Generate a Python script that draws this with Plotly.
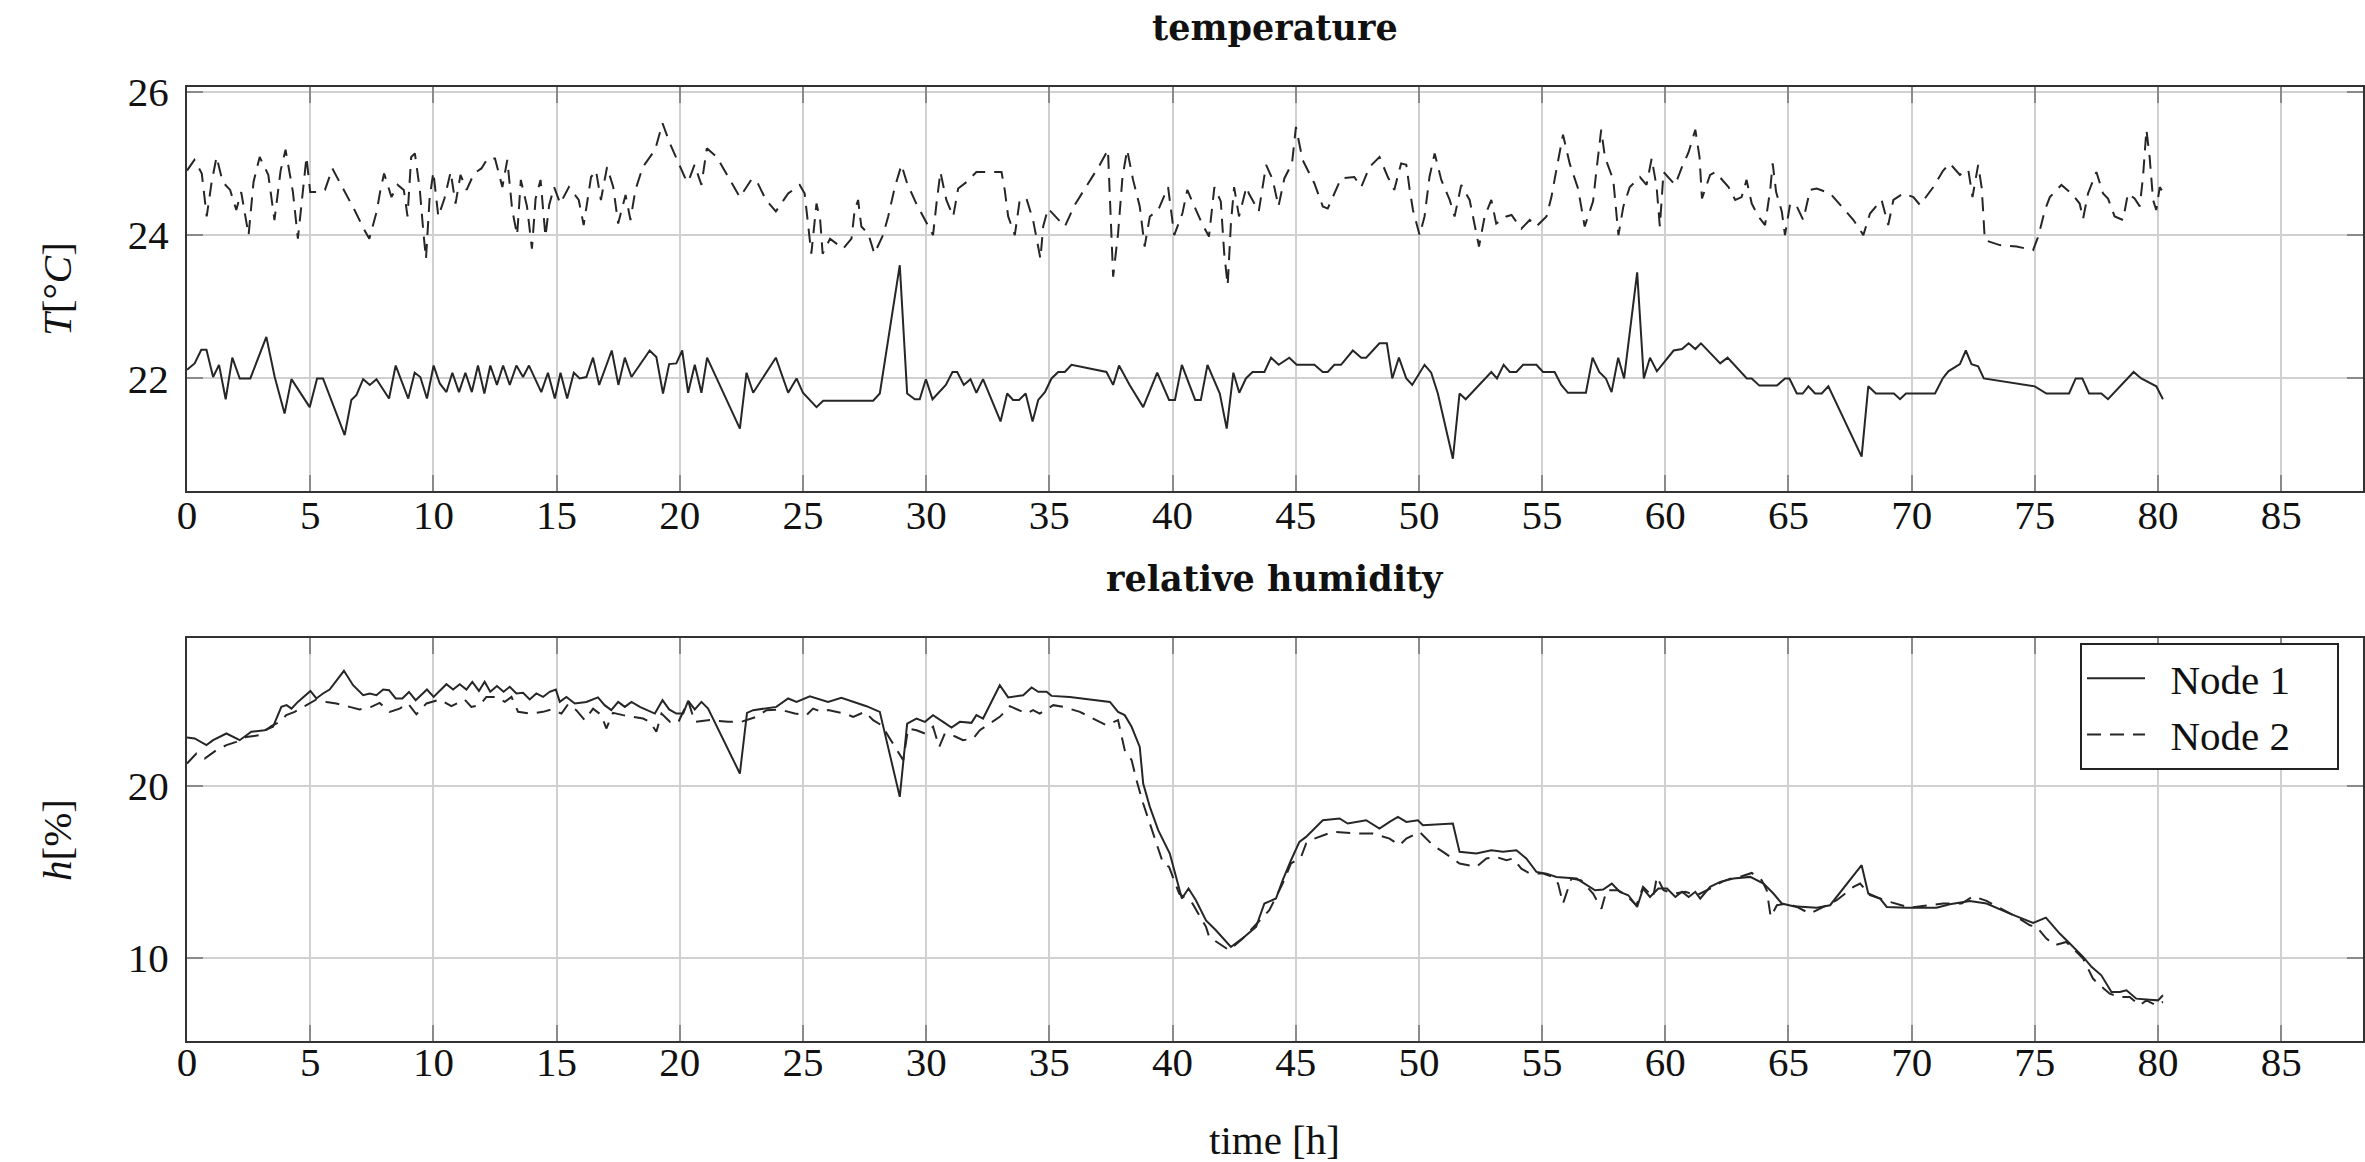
import plotly.graph_objects as go

# ---------------- data (hours, value) ----------------
temp_node1 = [
    [0, 22.12], [0.31, 22.21], [0.58, 22.40], [0.79, 22.40], [1.06, 22.02], [1.3, 22.19], [1.57, 21.71],
    [1.84, 22.29], [2.14, 22.0], [2.57, 22.0], [3.22, 22.58], [3.56, 22.02], [3.96, 21.51], [4.24, 21.99],
    [4.98, 21.60], [5.28, 22.0], [5.52, 22.0], [6.40, 21.21], [6.67, 21.70], [6.88, 21.77], [7.15, 21.99],
    [7.42, 21.91], [7.69, 21.99], [8.2, 21.72], [8.47, 22.18], [8.98, 21.72], [9.24, 22.08], [9.47, 22.02],
    [9.74, 21.72], [10.01, 22.18], [10.26, 21.93], [10.53, 21.81], [10.77, 22.08], [11.04, 21.81], [11.3, 22.08],
    [11.56, 21.81], [11.81, 22.18], [12.07, 21.79], [12.31, 22.18], [12.58, 21.91], [12.83, 22.18], [13.1, 21.91],
    [13.37, 22.18], [13.64, 22.02], [13.88, 22.18], [14.38, 21.81], [14.65, 22.08], [14.93, 21.72], [15.16, 22.08],
    [15.43, 21.72], [15.70, 22.08], [15.94, 22.0], [16.21, 22.02], [16.48, 22.29], [16.73, 21.91], [17.24, 22.39],
    [17.51, 21.91], [17.77, 22.29], [18.04, 22.02], [18.78, 22.39], [19.05, 22.30], [19.32, 21.79], [19.57, 22.20],
    [19.86, 22.21], [20.1, 22.39], [20.34, 21.8], [20.61, 22.19], [20.88, 21.8], [21.11, 22.29], [22.44, 21.30],
    [22.71, 22.08], [22.98, 21.80], [23.9, 22.29], [24.4, 21.80], [24.74, 22.0], [25.0, 21.80], [25.55, 21.60],
    [25.82, 21.69], [27.85, 21.69], [28.12, 21.79], [28.93, 23.58], [29.23, 21.79], [29.54, 21.71], [29.74, 21.71],
    [29.99, 21.99], [30.26, 21.71], [30.8, 21.91], [31.07, 22.09], [31.26, 22.09], [31.53, 21.91], [31.8, 21.99],
    [32.04, 21.80], [32.31, 21.99], [33.02, 21.40], [33.29, 21.79], [33.53, 21.70], [33.77, 21.70], [34.04, 21.79],
    [34.32, 21.40], [34.55, 21.70], [34.82, 21.81], [35.09, 22.0], [35.36, 22.09], [35.63, 22.09], [35.9, 22.19],
    [37.32, 22.09], [37.59, 21.91], [37.83, 22.18], [38.26, 21.91], [38.81, 21.60], [39.38, 22.08], [39.86, 21.70],
    [40.1, 21.70], [40.38, 22.19], [40.92, 21.70], [41.15, 21.70], [41.42, 22.19], [41.92, 21.79], [42.2, 21.30],
    [42.47, 22.08], [42.71, 21.80], [42.98, 22.0], [43.25, 22.09], [43.73, 22.09], [44.0, 22.29], [44.31, 22.19],
    [44.74, 22.29], [45.04, 22.19], [45.76, 22.19], [46.1, 22.09], [46.3, 22.09], [46.57, 22.19], [46.84, 22.19],
    [47.32, 22.39], [47.66, 22.29], [47.86, 22.29], [48.4, 22.49], [48.7, 22.49], [48.92, 22.0], [49.19, 22.29],
    [49.49, 22.0], [49.73, 21.91], [50.23, 22.19], [50.5, 22.08], [50.77, 21.79], [51.38, 20.88], [51.65, 21.79],
    [51.9, 21.71], [52.94, 22.09], [53.17, 22.0], [53.44, 22.19], [53.69, 22.09], [53.96, 22.09], [54.23, 22.19],
    [54.77, 22.19], [55.04, 22.09], [55.51, 22.09], [55.78, 21.91], [56.05, 21.8], [56.78, 21.8], [57.05, 22.29],
    [57.32, 22.09], [57.59, 22.0], [57.82, 21.81], [58.09, 22.29], [58.33, 22.0], [58.86, 23.48], [59.13, 22.0],
    [59.38, 22.29], [59.66, 22.10], [60.34, 22.39], [60.68, 22.41], [60.95, 22.49], [61.22, 22.41], [61.45, 22.49],
    [62.23, 22.21], [62.53, 22.29], [63.31, 22.0], [63.51, 22.0], [63.82, 21.90], [64.53, 21.90], [64.86, 22.0],
    [65.04, 22.0], [65.34, 21.79], [65.58, 21.79], [65.81, 21.89], [66.08, 21.79], [66.35, 21.79], [66.62, 21.89],
    [67.97, 20.91], [68.24, 21.89], [68.55, 21.79], [69.28, 21.79], [69.53, 21.71], [69.77, 21.79], [70.95, 21.79],
    [71.26, 22.0], [71.49, 22.10], [71.96, 22.20], [72.2, 22.39], [72.43, 22.20], [72.7, 22.17], [72.93, 22.0],
    [75.0, 21.89], [75.47, 21.79], [76.39, 21.79], [76.66, 22.0], [76.93, 22.0], [77.2, 21.79], [77.7, 21.79],
    [77.97, 21.71], [79.01, 22.09], [79.32, 22.0], [79.93, 21.89], [80.2, 21.71],
]

temp_node2 = [
    [0, 24.9], [0.3, 25.05], [0.6, 24.86], [0.8, 24.26], [1.0, 24.74], [1.2, 25.09], [1.45, 24.74], [1.75, 24.63],
    [2.0, 24.35], [2.2, 24.6], [2.5, 24.0], [2.7, 24.74], [2.95, 25.09], [3.3, 24.84], [3.55, 24.21], [3.8, 24.9],
    [4.0, 25.19], [4.3, 24.6], [4.5, 23.95], [4.7, 24.65], [4.85, 25.09], [5.0, 24.6], [5.3, 24.6], [5.6, 24.63],
    [5.9, 24.93], [6.3, 24.67], [6.8, 24.35], [7.2, 24.07], [7.4, 23.95], [7.7, 24.33], [7.85, 24.63], [8.0, 24.86],
    [8.3, 24.53], [8.55, 24.7], [8.8, 24.63], [8.95, 24.26], [9.1, 25.09], [9.25, 25.14], [9.45, 24.63], [9.6, 24.02],
    [9.7, 23.67], [9.85, 24.53], [10.0, 24.88], [10.2, 24.26], [10.45, 24.51], [10.7, 24.88], [10.9, 24.44],
    [11.1, 24.84], [11.35, 24.63], [11.65, 24.86], [11.95, 24.93], [12.2, 25.07], [12.5, 25.07], [12.8, 24.67],
    [13.0, 25.05], [13.2, 24.35], [13.4, 24.0], [13.55, 24.77], [13.8, 24.4], [14.0, 23.81], [14.15, 24.51],
    [14.35, 24.77], [14.55, 23.98], [14.7, 24.42], [14.9, 24.67], [15.15, 24.44], [15.5, 24.67], [15.9, 24.49],
    [16.1, 24.14], [16.4, 24.81], [16.6, 24.9], [16.8, 24.49], [17.05, 24.95], [17.3, 24.67], [17.5, 24.16],
    [17.8, 24.56], [18.0, 24.21], [18.2, 24.63], [18.5, 24.95], [19.0, 25.19], [19.3, 25.56], [19.6, 25.28],
    [19.9, 25.05], [20.2, 24.81], [20.34, 24.74], [20.6, 24.98], [20.88, 24.7], [21.1, 25.21], [21.5, 25.09],
    [21.9, 24.86], [22.44, 24.53], [22.9, 24.77], [23.1, 24.77], [23.5, 24.49], [23.9, 24.33], [24.4, 24.58],
    [24.87, 24.7], [25.07, 24.58], [25.2, 24.21], [25.34, 23.74], [25.55, 24.44], [25.7, 24.21], [25.8, 23.74],
    [26.1, 23.95], [26.63, 23.81], [26.97, 23.95], [27.1, 24.35], [27.24, 24.49], [27.37, 24.12], [27.65, 24.02],
    [27.9, 23.74], [28.25, 24.0], [28.46, 24.26], [28.73, 24.67], [29.0, 24.98], [29.23, 24.72], [29.6, 24.44],
    [29.88, 24.26], [30.28, 24.0], [30.42, 24.44], [30.58, 24.88], [30.82, 24.49], [31.1, 24.26], [31.3, 24.65],
    [31.64, 24.74], [32.04, 24.88], [32.58, 24.88], [33.06, 24.88], [33.19, 24.63], [33.33, 24.26], [33.6, 24.0],
    [33.8, 24.49], [34.07, 24.51], [34.34, 24.21], [34.64, 23.67], [34.75, 24.12], [34.95, 24.37], [35.63, 24.12],
    [36.03, 24.42], [36.5, 24.67], [37.05, 24.98], [37.38, 25.19], [37.48, 24.44], [37.59, 23.42], [37.79, 24.02],
    [37.97, 24.81], [38.16, 25.19], [38.4, 24.77], [38.67, 24.4], [38.87, 23.84], [39.08, 24.26], [39.42, 24.35],
    [39.82, 24.67], [40.07, 24.0], [40.4, 24.3], [40.6, 24.63], [40.8, 24.47], [41.2, 24.16], [41.48, 23.98],
    [41.7, 24.67], [41.96, 24.47], [42.1, 23.74], [42.24, 23.3], [42.37, 24.16], [42.5, 24.67], [42.7, 24.26],
    [43.0, 24.67], [43.1, 24.58], [43.5, 24.33], [43.66, 24.65], [43.8, 24.98], [44.07, 24.77], [44.3, 24.4],
    [44.54, 24.79], [44.85, 25.0], [45.01, 25.51], [45.28, 25.05], [45.76, 24.72], [46.1, 24.4], [46.3, 24.37],
    [46.84, 24.79], [47.38, 24.81], [47.66, 24.67], [48.0, 24.95], [48.4, 25.09], [48.74, 24.81], [49.0, 24.63],
    [49.28, 25.0], [49.49, 24.98], [49.62, 24.65], [49.76, 24.35], [50.03, 24.0], [50.23, 24.26], [50.43, 24.81],
    [50.64, 25.14], [50.91, 24.77], [51.25, 24.49], [51.45, 24.26], [51.72, 24.7], [52.06, 24.49], [52.26, 24.14],
    [52.44, 23.84], [52.67, 24.26], [52.94, 24.49], [53.14, 24.16], [53.55, 24.26], [53.76, 24.28], [54.16, 24.09],
    [54.5, 24.21], [54.77, 24.12], [55.18, 24.26], [55.38, 24.53], [55.58, 24.91], [55.85, 25.4], [56.12, 25.0],
    [56.46, 24.65], [56.73, 24.12], [57.07, 24.47], [57.2, 24.88], [57.4, 25.47], [57.55, 25.09], [57.89, 24.77],
    [58.1, 24.0], [58.3, 24.4], [58.56, 24.67], [58.97, 24.81], [59.24, 24.7], [59.45, 25.07], [59.65, 24.67],
    [59.78, 24.12], [59.93, 24.88], [60.4, 24.7], [60.68, 24.95], [60.95, 25.16], [61.22, 25.47], [61.39, 25.09],
    [61.49, 24.51], [61.82, 24.84], [62.03, 24.88], [62.57, 24.67], [62.84, 24.49], [63.1, 24.53], [63.3, 24.77],
    [63.51, 24.44], [63.78, 24.26], [64.05, 24.14], [64.26, 24.63], [64.36, 25.0], [64.5, 24.6], [64.73, 24.33],
    [64.86, 24.0], [65.07, 24.44], [65.34, 24.4], [65.6, 24.21], [65.88, 24.63], [66.15, 24.65], [66.7, 24.58],
    [67.16, 24.4], [67.64, 24.21], [68.04, 24.0], [68.31, 24.3], [68.78, 24.49], [69.05, 24.14], [69.26, 24.49],
    [69.66, 24.58], [70.07, 24.53], [70.34, 24.42], [70.88, 24.67], [71.28, 24.9], [71.55, 25.0], [71.96, 24.84],
    [72.3, 24.91], [72.47, 24.53], [72.7, 24.98], [72.84, 24.67], [72.9, 24.35], [72.97, 23.93], [73.58, 23.86],
    [74.26, 23.84], [74.93, 23.79], [75.14, 23.98], [75.41, 24.35], [75.61, 24.53], [76.08, 24.7], [76.49, 24.58],
    [76.82, 24.44], [76.96, 24.23], [77.16, 24.58], [77.5, 24.88], [77.77, 24.58], [77.97, 24.51], [78.24, 24.26],
    [78.58, 24.21], [78.78, 24.58], [79.05, 24.51], [79.26, 24.4], [79.39, 24.81], [79.53, 25.47], [79.66, 25.09],
    [79.8, 24.49], [79.93, 24.35], [80.07, 24.67], [80.27, 24.56],
]

hum_node1 = [
    [0, 22.82], [0.31, 22.76], [0.79, 22.37], [1.06, 22.66], [1.6, 23.05], [2.14, 22.66], [2.61, 23.15],
    [3.15, 23.24], [3.49, 23.44], [3.83, 24.6], [4.04, 24.7], [4.24, 24.5], [4.5, 24.89], [5.01, 25.53],
    [5.25, 25.09], [5.52, 25.38], [5.79, 25.61], [6.37, 26.7], [6.74, 25.86], [7.15, 25.28], [7.42, 25.38],
    [7.69, 25.28], [7.96, 25.61], [8.2, 25.57], [8.47, 25.09], [8.74, 25.09], [9.01, 25.47], [9.28, 24.99],
    [9.74, 25.61], [10.01, 25.18], [10.53, 25.92], [10.8, 25.61], [11.07, 25.92], [11.34, 25.61], [11.58, 26.06],
    [11.85, 25.53], [12.08, 26.06], [12.31, 25.48], [12.58, 25.81], [12.85, 25.48], [13.1, 25.77], [13.37, 25.38],
    [13.64, 25.42], [13.91, 25.03], [14.18, 25.38], [14.45, 25.18], [14.72, 25.48], [14.97, 25.61], [15.13, 24.89],
    [15.4, 25.18], [15.74, 24.8], [16.21, 24.89], [16.68, 25.15], [16.95, 24.7], [17.22, 24.41], [17.5, 24.89],
    [17.77, 24.6], [18.04, 24.89], [18.38, 24.6], [18.65, 24.41], [18.99, 24.21], [19.3, 24.99], [19.57, 24.45],
    [19.86, 24.21], [20.14, 24.21], [20.34, 24.95], [20.61, 24.45], [20.88, 24.89], [21.15, 24.5], [22.44, 20.72],
    [22.73, 24.25], [22.98, 24.41], [23.92, 24.6], [24.4, 25.09], [24.74, 24.89], [25.28, 25.22], [26.02, 24.89],
    [26.56, 25.13], [27.1, 24.89], [27.58, 24.64], [28.12, 24.31], [28.93, 19.36], [29.23, 23.63], [29.61, 23.92],
    [29.95, 23.73], [30.28, 24.12], [30.69, 23.73], [31.03, 23.4], [31.37, 23.73], [31.84, 23.67], [32.04, 24.12],
    [32.31, 23.92], [32.99, 25.86], [33.33, 25.15], [33.94, 25.28], [34.28, 25.73], [34.55, 25.48], [34.89, 25.48],
    [35.09, 25.24], [35.83, 25.18], [37.46, 24.89], [37.79, 24.31], [38.06, 24.12], [38.34, 23.44], [38.67, 22.27],
    [38.81, 20.14], [39.08, 18.78], [39.42, 17.42], [39.89, 16.06], [40.07, 15.09], [40.38, 13.44], [40.65, 14.02],
    [40.95, 13.34], [41.36, 12.17], [41.76, 11.59], [42.37, 10.62], [42.91, 11.2], [43.39, 11.79], [43.73, 13.15],
    [44.2, 13.44], [44.47, 14.5], [44.81, 15.67], [45.15, 16.74], [45.42, 17.03], [45.69, 17.42], [46.1, 18.0],
    [46.78, 18.1], [47.11, 17.81], [47.86, 18.0], [48.4, 17.51], [48.81, 17.9], [49.15, 18.19], [49.49, 17.9],
    [49.96, 18.0], [50.16, 17.71], [51.38, 17.81], [51.65, 16.16], [52.33, 16.06], [52.94, 16.25], [53.41, 16.16],
    [53.96, 16.25], [54.36, 15.77], [54.77, 14.99], [55.18, 14.89], [55.58, 14.7], [56.4, 14.6], [57.15, 13.92],
    [57.48, 13.96], [57.83, 14.31], [58.16, 13.83], [58.5, 13.63], [58.86, 12.95], [59.1, 14.02], [59.38, 13.53],
    [59.72, 14.02], [60.07, 14.02], [60.41, 13.53], [60.68, 13.83], [60.95, 13.53], [61.22, 13.83], [61.42, 13.44],
    [61.82, 14.12], [62.23, 14.41], [62.77, 14.6], [63.45, 14.7], [63.99, 14.31], [64.39, 13.73], [64.73, 13.15],
    [65.2, 12.99], [66.15, 12.91], [66.69, 13.05], [67.97, 15.38], [68.24, 13.73], [68.72, 13.44], [68.99, 12.95],
    [69.8, 12.91], [71.01, 12.91], [71.55, 13.11], [72.36, 13.3], [73.04, 13.15], [73.99, 12.56], [74.93, 12.02],
    [75.45, 12.33], [76.01, 11.4], [76.42, 10.82], [76.96, 10.04], [77.3, 9.46], [77.7, 8.97], [78.11, 8.0],
    [78.45, 8.0], [78.72, 8.1], [79.12, 7.61], [79.66, 7.55], [80.0, 7.51], [80.2, 7.81],
]

hum_node2 = [
    [0, 21.3], [0.38, 21.88], [0.72, 21.59], [1.19, 22.08], [1.6, 22.37], [2.0, 22.56], [2.41, 22.85],
    [2.95, 22.95], [3.42, 23.48], [3.76, 23.73], [4.03, 24.12], [4.37, 24.31], [4.85, 24.7], [5.25, 25.03],
    [5.66, 24.89], [6.06, 24.8], [6.6, 24.6], [7.0, 24.45], [7.48, 24.6], [7.82, 24.83], [8.23, 24.31],
    [8.63, 24.5], [8.97, 24.8], [9.31, 24.17], [9.72, 24.8], [10.26, 25.03], [10.73, 24.64], [11.27, 25.03],
    [11.54, 24.6], [11.88, 24.7], [12.15, 25.18], [12.56, 25.18], [12.9, 24.89], [13.17, 25.18], [13.44, 24.31],
    [13.91, 24.21], [14.45, 24.31], [14.79, 24.45], [15.2, 24.21], [15.47, 24.76], [15.8, 24.41], [16.14, 23.83],
    [16.48, 24.5], [16.82, 24.12], [17.02, 23.34], [17.29, 24.25], [17.7, 24.12], [18.1, 24.02], [18.51, 23.92],
    [18.78, 23.73], [19.05, 23.15], [19.26, 24.21], [19.6, 23.73], [19.93, 23.67], [20.34, 24.95], [20.61, 23.73],
    [21.22, 23.83], [21.96, 23.73], [22.5, 23.73], [23.11, 24.02], [23.52, 24.41], [24.06, 24.45], [24.67, 24.21],
    [25.14, 24.12], [25.41, 24.5], [25.75, 24.31], [26.02, 24.41], [26.7, 24.21], [27.04, 24.02], [27.51, 24.31],
    [27.85, 23.83], [28.19, 23.53], [28.53, 22.76], [28.8, 22.08], [29.07, 21.5], [29.27, 23.34], [29.61, 23.24],
    [29.95, 23.05], [30.28, 23.44], [30.53, 22.27], [30.76, 23.05], [31.16, 22.89], [31.5, 22.66], [31.91, 22.76],
    [32.18, 23.24], [32.58, 23.63], [32.99, 24.02], [33.4, 24.64], [33.8, 24.41], [34.07, 24.21], [34.34, 24.41],
    [34.61, 24.21], [35.16, 24.7], [35.56, 24.6], [36.24, 24.31], [36.78, 23.92], [37.32, 23.53], [37.79, 23.83],
    [38.06, 22.08], [38.34, 21.5], [38.54, 20.33], [38.81, 18.97], [39.22, 17.22], [39.62, 15.48], [39.86, 15.28],
    [40.27, 13.73], [40.81, 13.15], [41.36, 11.79], [41.49, 11.2], [42.03, 10.72], [42.3, 10.43], [42.85, 11.11],
    [43.52, 12.17], [43.93, 12.76], [44.2, 13.53], [44.47, 14.31], [44.81, 15.48], [45.22, 15.86], [45.42, 16.64],
    [45.76, 16.93], [46.5, 17.32], [47.6, 17.22], [48.13, 17.22], [48.81, 16.93], [49.21, 16.54], [49.49, 16.93],
    [50.03, 17.32], [50.57, 16.54], [50.98, 16.16], [51.65, 15.48], [52.33, 15.28], [52.74, 15.77], [53.14, 15.86],
    [53.55, 15.67], [53.82, 15.77], [54.16, 15.18], [54.5, 14.89], [55.04, 14.89], [55.45, 14.7], [55.65, 14.31],
    [55.85, 13.15], [56.19, 14.6], [56.59, 14.5], [57.07, 13.73], [57.41, 12.85], [57.62, 13.92], [58.08, 13.92],
    [58.42, 13.63], [58.83, 13.05], [59.1, 14.12], [59.51, 13.53], [59.66, 14.7], [59.93, 13.92], [60.34, 13.73],
    [60.81, 13.83], [61.28, 13.63], [61.82, 14.02], [62.3, 14.41], [62.64, 14.6], [63.04, 14.7], [63.51, 14.93],
    [63.92, 14.5], [64.12, 13.92], [64.28, 12.37], [64.53, 13.05], [64.93, 13.15], [65.34, 12.95], [65.88, 12.56],
    [66.42, 12.95], [66.96, 13.34], [67.64, 14.12], [67.91, 14.31], [68.31, 13.63], [69.12, 13.24], [69.93, 12.91],
    [70.61, 13.05], [71.28, 13.15], [72.03, 13.15], [72.5, 13.57], [73.04, 13.3], [73.72, 12.76], [74.26, 12.37],
    [74.8, 11.88], [75.07, 11.79], [75.47, 11.11], [75.81, 10.72], [76.28, 10.91], [76.96, 9.94], [77.36, 8.78],
    [77.64, 8.39], [78.04, 7.9], [78.45, 7.71], [78.85, 7.71], [79.26, 7.22], [79.53, 7.51], [79.93, 7.22],
    [80.2, 7.42],
]

series_names = ["Node 1", "Node 2"]
x_ticks = list(range(0, 90, 5))
temp_ticks = [22, 24, 26]
hum_ticks = [10, 20]

# ---------------- figure ----------------
FONT = "Liberation Serif"
TITLE_FONT = "DejaVu Serif"
FS = 41
LINE_COLOR = "#262626"
DASH = "14px,9px"

def xs(d):
    return [p[0] for p in d]

def ys(d):
    return [p[1] for p in d]

def legend_label(s):
    # small gap between the line sample and the text, and some right padding
    return "\u2002" + s + "\u2002\u2002"

fig = go.Figure()
fig.add_trace(go.Scatter(x=xs(temp_node1), y=ys(temp_node1), mode="lines", name=series_names[0],
                         line=dict(color=LINE_COLOR, width=2), showlegend=False, xaxis="x", yaxis="y"))
fig.add_trace(go.Scatter(x=xs(temp_node2), y=ys(temp_node2), mode="lines", name=series_names[1],
                         line=dict(color=LINE_COLOR, width=2, dash=DASH), showlegend=False, xaxis="x", yaxis="y"))
fig.add_trace(go.Scatter(x=xs(hum_node1), y=ys(hum_node1), mode="lines", name=legend_label(series_names[0]),
                         line=dict(color=LINE_COLOR, width=2), xaxis="x2", yaxis="y2"))
fig.add_trace(go.Scatter(x=xs(hum_node2), y=ys(hum_node2), mode="lines", name=legend_label(series_names[1]),
                         line=dict(color=LINE_COLOR, width=2, dash=DASH), xaxis="x2", yaxis="y2"))

W, H = 2365, 1162
x_dom = [187 / W, 2362.5 / W]
top_dom = [1 - 491 / H, 1 - 86.7 / H]
bot_dom = [1 - 1041.4 / H, 1 - 637.5 / H]

axis_common = dict(
    showline=True, linecolor="#333333", linewidth=2, mirror="ticks",
    showgrid=True, gridcolor="#d0d0d0", gridwidth=1.5,
    ticks="inside", ticklen=16, tickwidth=1.5, tickcolor="#8a8a8a",
    tickfont=dict(family=FONT, size=FS, color="#111111"),
    zeroline=False, automargin=False,
)

fig.update_layout(
    width=W, height=H,
    margin=dict(l=0, r=0, t=0, b=0),
    paper_bgcolor="white", plot_bgcolor="white",
    font=dict(family=FONT, size=FS, color="#111111"),
    xaxis=dict(domain=x_dom, anchor="y", range=[0, 88.3], tickvals=x_ticks, ticklabelstandoff=-13, **axis_common),
    yaxis=dict(domain=top_dom, anchor="x", range=[20.43, 26.07], tickvals=temp_ticks, ticklabelstandoff=8, **axis_common),
    xaxis2=dict(domain=x_dom, anchor="y2", range=[0, 88.3], tickvals=x_ticks, ticklabelstandoff=-17, **axis_common),
    yaxis2=dict(domain=bot_dom, anchor="x2", range=[5.12, 28.64], tickvals=hum_ticks, ticklabelstandoff=8, **axis_common),
    legend=dict(
        x=2339 / W, y=1 - 643 / H, xanchor="right", yanchor="top",
        bgcolor="white", bordercolor="#222222", borderwidth=2,
        font=dict(family=FONT, size=FS, color="#111111"),
        itemwidth=58, tracegroupgap=0,
    ),
)

cx = (x_dom[0] + x_dom[1]) / 2
annots = [
    dict(text="<b>temperature</b>", x=cx, y=1 - 27 / H, font=dict(family=TITLE_FONT, size=35)),
    dict(text="<b>relative humidity</b>", x=cx, y=1 - 578 / H, font=dict(family=TITLE_FONT, size=35)),
    dict(text="time [h]", x=cx, y=1 - 1140 / H, font=dict(family=FONT, size=FS)),
    dict(text="<i>T</i>[°<i>C</i>]", x=57 / W, y=1 - 289 / H, textangle=-90, font=dict(family=FONT, size=FS)),
    dict(text="<i>h</i>[%]", x=57 / W, y=1 - 840 / H, textangle=-90, font=dict(family=FONT, size=FS)),
]
for a in annots:
    fig.add_annotation(xref="paper", yref="paper", showarrow=False,
                       xanchor="center", yanchor="middle",
                       font=dict(color="#111111", **a.pop("font")), **a)

fig.write_html("out.html")
